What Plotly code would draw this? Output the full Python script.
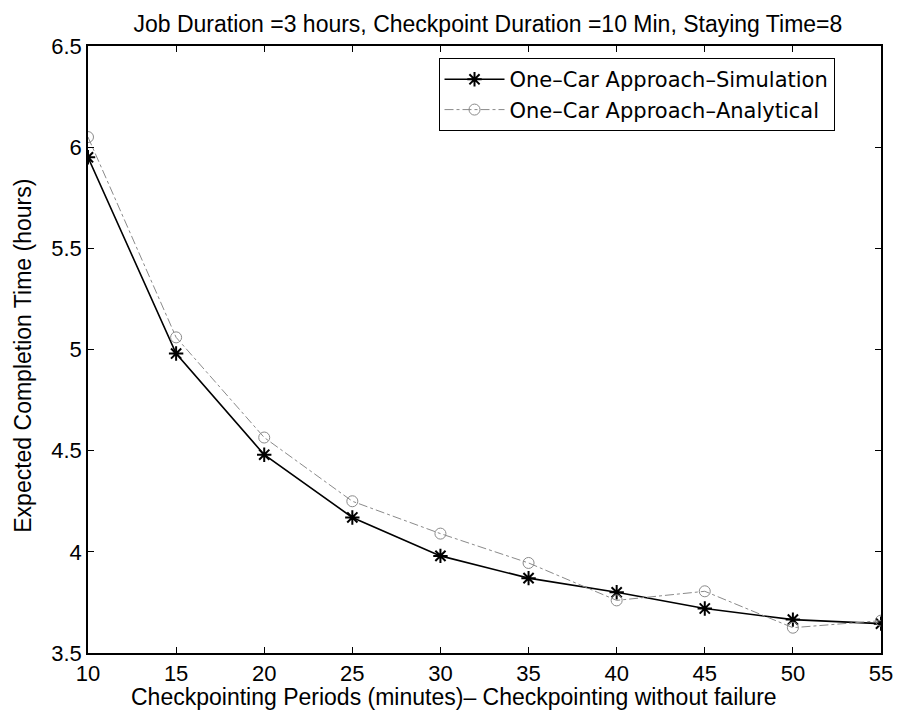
import plotly.graph_objects as go

periods = [10, 15, 20, 25, 30, 35, 40, 45, 50, 55]
simulation = [5.95, 4.98, 4.48, 4.17, 3.98, 3.87, 3.80, 3.72, 3.665, 3.645]
analytical = [6.05, 5.06, 4.565, 4.25, 4.09, 3.945, 3.76, 3.805, 3.625, 3.66]
y_ticks = [3.5, 4, 4.5, 5, 5.5, 6, 6.5]
y_tick_labels = ["3.5", "4", "4.5", "5", "5.5", "6", "6.5"]

FONT = "Liberation Sans, Arial, sans-serif"

fig = go.Figure()
fig.add_trace(go.Scatter(
    x=periods, y=simulation, mode="lines+markers",
    name="One\u2013Car Approach\u2013Simulation",
    line=dict(color="black", width=1.6),
    marker=dict(symbol="asterisk-open", size=12, color="black",
                line=dict(color="black", width=2)),
))
fig.add_trace(go.Scatter(
    x=periods, y=analytical, mode="lines+markers",
    name="One\u2013Car Approach\u2013Analytical",
    line=dict(color="#8a8a8a", width=1, dash="dashdot"),
    marker=dict(symbol="circle-open", size=11, color="#8a8a8a",
                line=dict(color="#8a8a8a", width=1)),
))

# page body has an 8px default margin, so the figure is sized to fit the window
fig.update_layout(
    width=897, height=709,
    margin=dict(l=80, r=14, t=38, b=64),
    paper_bgcolor="white", plot_bgcolor="white",
    font=dict(family=FONT, size=22, color="black"),
    title=dict(text="Job Duration =3 hours, Checkpoint Duration =10 Min, Staying Time=8",
               x=0.535, xanchor="center", y=0.978, yanchor="middle",
               font=dict(family=FONT, size=23, color="black")),
    showlegend=True,
    legend=dict(x=0.442, y=0.98, xanchor="left", yanchor="top",
                bgcolor="white", bordercolor="black", borderwidth=1,
                font=dict(family="DejaVu Sans, " + FONT, size=21, color="black"),
                tracegroupgap=0, itemwidth=60),
    annotations=[
        dict(text="Checkpointing Periods (minutes)\u2013 Checkpointing without failure",
             xref="paper", yref="paper", x=0.462, y=-0.0725,
             xanchor="center", yanchor="middle", showarrow=False,
             font=dict(family=FONT, size=23, color="black")),
        dict(text="Expected Completion Time (hours)",
             xref="paper", yref="paper", x=-0.083, y=0.49, textangle=-90,
             xanchor="center", yanchor="middle", showarrow=False,
             font=dict(family=FONT, size=23, color="black")),
    ],
)
fig.update_xaxes(
    range=[10, 55], tickmode="array", tickvals=periods,
    ticks="inside", ticklen=6, tickcolor="black",
    showline=True, linecolor="black", linewidth=1.5, mirror="ticks",
    showgrid=False, zeroline=False, ticklabeloverflow="allow",
    tickfont=dict(family=FONT, size=22),
)
fig.update_yaxes(
    range=[3.5, 6.5], tickmode="array", tickvals=y_ticks, ticktext=y_tick_labels,
    ticks="inside", ticklen=6, tickcolor="black",
    showline=True, linecolor="black", linewidth=1.5, mirror="ticks",
    showgrid=False, zeroline=False, ticklabeloverflow="allow",
    tickfont=dict(family=FONT, size=22),
)

fig.write_html("out.html")
